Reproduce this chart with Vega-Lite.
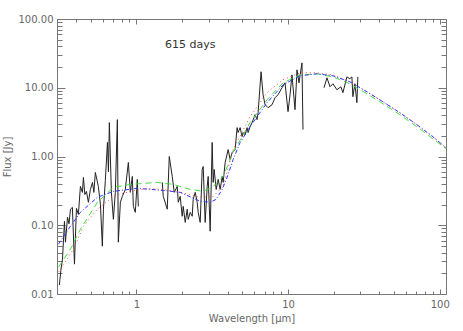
{
  "$schema": "https://vega.github.io/schema/vega-lite/v6.json",
  "width": 389,
  "height": 275,
  "autosize": "none",
  "padding": {"left": 57, "top": 19, "right": 17, "bottom": 37},
  "background": "white",
  "config": {
    "view": {"stroke": null},
    "axis": {"grid": false, "domainColor": "#777", "tickColor": "#777", "labelColor": "#666", "titleColor": "#666", "labelFont": "DejaVu Sans", "titleFont": "DejaVu Sans", "labelFontSize": 10, "titleFontSize": 10, "titleFontWeight": "normal", "domainWidth": 1, "tickWidth": 1}
  },
  "datasets": {
    "spec": [
      {"w": 0.311, "f": 0.0135, "seg": 1}, {"w": 0.318, "f": 0.022, "seg": 1}, {"w": 0.326, "f": 0.0321, "seg": 1}, {"w": 0.336, "f": 0.114, "seg": 1}, {"w": 0.341, "f": 0.0567, "seg": 1}, {"w": 0.352, "f": 0.131, "seg": 1}, {"w": 0.36, "f": 0.105, "seg": 1}, {"w": 0.368, "f": 0.171, "seg": 1}, {"w": 0.379, "f": 0.182, "seg": 1}, {"w": 0.391, "f": 0.0272, "seg": 1}, {"w": 0.403, "f": 0.176, "seg": 1}, {"w": 0.415, "f": 0.144, "seg": 1}, {"w": 0.428, "f": 0.367, "seg": 1}, {"w": 0.441, "f": 0.301, "seg": 1}, {"w": 0.448, "f": 0.496, "seg": 1}, {"w": 0.458, "f": 0.28, "seg": 1}, {"w": 0.469, "f": 0.311, "seg": 1}, {"w": 0.483, "f": 0.216, "seg": 1}, {"w": 0.498, "f": 0.33, "seg": 1}, {"w": 0.514, "f": 0.42, "seg": 1}, {"w": 0.525, "f": 0.3, "seg": 1}, {"w": 0.537, "f": 0.586, "seg": 1}, {"w": 0.562, "f": 0.367, "seg": 1}, {"w": 0.58, "f": 0.2, "seg": 1}, {"w": 0.597, "f": 0.0496, "seg": 1}, {"w": 0.607, "f": 0.171, "seg": 1}, {"w": 0.625, "f": 0.45, "seg": 1}, {"w": 0.645, "f": 1.6, "seg": 1}, {"w": 0.655, "f": 0.6, "seg": 1}, {"w": 0.664, "f": 3.11, "seg": 1}, {"w": 0.685, "f": 0.301, "seg": 1}, {"w": 0.706, "f": 0.122, "seg": 1}, {"w": 0.727, "f": 0.301, "seg": 1}, {"w": 0.75, "f": 3.44, "seg": 1}, {"w": 0.761, "f": 0.0567, "seg": 1}, {"w": 0.785, "f": 0.216, "seg": 1}, {"w": 0.809, "f": 0.263, "seg": 1}, {"w": 0.846, "f": 0.332, "seg": 1}, {"w": 0.886, "f": 0.819, "seg": 1}, {"w": 0.913, "f": 0.301, "seg": 1}, {"w": 0.941, "f": 0.513, "seg": 1}, {"w": 0.956, "f": 0.188, "seg": 1}, {"w": 0.985, "f": 0.154, "seg": 1}, {"w": 1.015, "f": 0.464, "seg": 1}, {"w": 1.031, "f": 0.188, "seg": 1},
      {"w": 1.483, "f": 0.42, "seg": 2}, {"w": 1.505, "f": 0.263, "seg": 2}, {"w": 1.599, "f": 0.171, "seg": 2}, {"w": 1.649, "f": 1.0, "seg": 2}, {"w": 1.725, "f": 0.513, "seg": 2}, {"w": 1.778, "f": 0.301, "seg": 2}, {"w": 1.861, "f": 0.367, "seg": 2}, {"w": 1.89, "f": 0.216, "seg": 2}, {"w": 1.947, "f": 0.263, "seg": 2}, {"w": 2.007, "f": 0.135, "seg": 2}, {"w": 2.038, "f": 0.188, "seg": 2}, {"w": 2.101, "f": 0.11, "seg": 2}, {"w": 2.165, "f": 0.171, "seg": 2}, {"w": 2.198, "f": 0.122, "seg": 2}, {"w": 2.266, "f": 0.154, "seg": 2}, {"w": 2.336, "f": 0.135, "seg": 2}, {"w": 2.371, "f": 0.238, "seg": 2}, {"w": 2.444, "f": 0.301, "seg": 2}, {"w": 2.519, "f": 0.216, "seg": 2}, {"w": 2.558, "f": 0.154, "seg": 2}, {"w": 2.637, "f": 0.11, "seg": 2}, {"w": 2.718, "f": 0.648, "seg": 2}, {"w": 2.76, "f": 0.716, "seg": 2}, {"w": 2.844, "f": 0.11, "seg": 2}, {"w": 2.932, "f": 0.367, "seg": 2}, {"w": 2.977, "f": 0.513, "seg": 2}, {"w": 3.068, "f": 0.0819, "seg": 2}, {"w": 3.162, "f": 1.6, "seg": 2}, {"w": 3.211, "f": 0.42, "seg": 2}, {"w": 3.26, "f": 0.648, "seg": 2}, {"w": 3.36, "f": 0.332, "seg": 2}, {"w": 3.464, "f": 0.464, "seg": 2}, {"w": 3.57, "f": 0.332, "seg": 2}, {"w": 3.68, "f": 0.513, "seg": 2}, {"w": 3.736, "f": 0.42, "seg": 2}, {"w": 3.851, "f": 0.819, "seg": 2}, {"w": 4.03, "f": 1.26, "seg": 2}, {"w": 4.154, "f": 0.905, "seg": 2}, {"w": 4.281, "f": 1.14, "seg": 2}, {"w": 4.48, "f": 1.26, "seg": 2}, {"w": 4.618, "f": 2.63, "seg": 2}, {"w": 4.69, "f": 2.23, "seg": 2}, {"w": 4.833, "f": 2.63, "seg": 2}, {"w": 4.982, "f": 1.95, "seg": 2}, {"w": 5.058, "f": 2.23, "seg": 2}, {"w": 5.213, "f": 2.08, "seg": 2}, {"w": 5.374, "f": 2.63, "seg": 2}, {"w": 5.456, "f": 2.23, "seg": 2}, {"w": 5.623, "f": 2.72, "seg": 2}, {"w": 5.797, "f": 3.11, "seg": 2}, {"w": 6.066, "f": 4.06, "seg": 2}, {"w": 6.253, "f": 3.44, "seg": 2}, {"w": 6.348, "f": 4.34, "seg": 2}, {"w": 6.643, "f": 17.1, "seg": 2}, {"w": 6.848, "f": 7.92, "seg": 2}, {"w": 7.06, "f": 5.67, "seg": 2}, {"w": 7.388, "f": 5.13, "seg": 2}, {"w": 7.848, "f": 5.67, "seg": 2}, {"w": 8.214, "f": 7.16, "seg": 2}, {"w": 8.595, "f": 7.92, "seg": 2}, {"w": 9.13, "f": 10.0, "seg": 2}, {"w": 9.556, "f": 11.8, "seg": 2}, {"w": 10.0, "f": 4.49, "seg": 2}, {"w": 10.31, "f": 7.92, "seg": 2}, {"w": 10.62, "f": 15.4, "seg": 2}, {"w": 11.12, "f": 4.8, "seg": 2}, {"w": 11.46, "f": 18.2, "seg": 2}, {"w": 11.81, "f": 11.8, "seg": 2}, {"w": 12.36, "f": 23.0, "seg": 2}, {"w": 12.55, "f": 2.46, "seg": 2},
      {"w": 17.26, "f": 10.0, "seg": 3}, {"w": 18.06, "f": 13.96, "seg": 3}, {"w": 18.9, "f": 10.34, "seg": 3}, {"w": 19.78, "f": 11.43, "seg": 3}, {"w": 21.01, "f": 9.35, "seg": 3}, {"w": 22.32, "f": 10.34, "seg": 3}, {"w": 23.0, "f": 8.47, "seg": 3}, {"w": 24.44, "f": 14.4, "seg": 3}, {"w": 25.58, "f": 13.5, "seg": 3}, {"w": 26.37, "f": 14.4, "seg": 3}, {"w": 26.77, "f": 7.41, "seg": 3}, {"w": 27.6, "f": 11.43, "seg": 3}, {"w": 28.44, "f": 6.07, "seg": 3}, {"w": 28.87, "f": 14.4, "seg": 3}
    ],
    "models": [
      {"w": 0.307, "f": 0.0246, "model": "green"}, {"w": 0.368, "f": 0.0449, "model": "green"}, {"w": 0.428, "f": 0.0875, "model": "green"}, {"w": 0.554, "f": 0.216, "model": "green"}, {"w": 0.706, "f": 0.356, "model": "green"}, {"w": 0.913, "f": 0.393, "model": "green"}, {"w": 1.375, "f": 0.42, "model": "green"}, {"w": 1.751, "f": 0.393, "model": "green"}, {"w": 2.266, "f": 0.332, "model": "green"}, {"w": 2.76, "f": 0.311, "model": "green"}, {"w": 3.211, "f": 0.367, "model": "green"}, {"w": 3.736, "f": 0.513, "model": "green"}, {"w": 4.346, "f": 1.14, "model": "green"}, {"w": 5.623, "f": 3.11, "model": "green"}, {"w": 7.276, "f": 6.7, "model": "green"}, {"w": 9.27, "f": 11.8, "model": "green"}, {"w": 11.99, "f": 15.4, "model": "green"}, {"w": 15.52, "f": 15.95, "model": "green"}, {"w": 19.78, "f": 14.4, "model": "green"}, {"w": 25.58, "f": 11.4, "model": "green"}, {"w": 33.09, "f": 8.19, "model": "green"}, {"w": 42.17, "f": 5.86, "model": "green"}, {"w": 54.56, "f": 4.06, "model": "green"}, {"w": 70.6, "f": 2.72, "model": "green"}, {"w": 89.9, "f": 1.82, "model": "green"}, {"w": 109.5, "f": 1.31, "model": "green"},
      {"w": 0.307, "f": 0.0208, "model": "red"}, {"w": 0.385, "f": 0.0449, "model": "red"}, {"w": 0.448, "f": 0.0968, "model": "red"}, {"w": 0.554, "f": 0.171, "model": "red"}, {"w": 0.706, "f": 0.263, "model": "red"}, {"w": 0.913, "f": 0.311, "model": "red"}, {"w": 1.181, "f": 0.344, "model": "red"}, {"w": 1.505, "f": 0.332, "model": "red"}, {"w": 1.947, "f": 0.301, "model": "red"}, {"w": 2.637, "f": 0.255, "model": "red"}, {"w": 3.211, "f": 0.263, "model": "red"}, {"w": 3.736, "f": 0.367, "model": "red"}, {"w": 4.346, "f": 1.26, "model": "red"}, {"w": 5.623, "f": 3.8, "model": "red"}, {"w": 7.276, "f": 8.47, "model": "red"}, {"w": 9.27, "f": 13.1, "model": "red"}, {"w": 11.99, "f": 16.5, "model": "red"}, {"w": 15.52, "f": 16.5, "model": "red"}, {"w": 19.78, "f": 15.4, "model": "red"}, {"w": 25.58, "f": 12.2, "model": "red"}, {"w": 33.09, "f": 8.75, "model": "red"}, {"w": 42.17, "f": 6.27, "model": "red"}, {"w": 54.56, "f": 4.34, "model": "red"}, {"w": 70.6, "f": 2.91, "model": "red"}, {"w": 89.9, "f": 1.95, "model": "red"}, {"w": 109.5, "f": 1.35, "model": "red"},
      {"w": 0.307, "f": 0.0531, "model": "blue"}, {"w": 0.368, "f": 0.0968, "model": "blue"}, {"w": 0.428, "f": 0.154, "model": "blue"}, {"w": 0.554, "f": 0.255, "model": "blue"}, {"w": 0.706, "f": 0.311, "model": "blue"}, {"w": 1.015, "f": 0.344, "model": "blue"}, {"w": 1.505, "f": 0.321, "model": "blue"}, {"w": 1.947, "f": 0.301, "model": "blue"}, {"w": 2.637, "f": 0.223, "model": "blue"}, {"w": 3.068, "f": 0.216, "model": "blue"}, {"w": 3.36, "f": 0.238, "model": "blue"}, {"w": 3.68, "f": 0.332, "model": "blue"}, {"w": 3.968, "f": 0.496, "model": "blue"}, {"w": 4.346, "f": 0.905, "model": "blue"}, {"w": 4.833, "f": 1.6, "model": "blue"}, {"w": 5.623, "f": 2.72, "model": "blue"}, {"w": 7.276, "f": 6.07, "model": "blue"}, {"w": 9.27, "f": 11.05, "model": "blue"}, {"w": 11.99, "f": 14.9, "model": "blue"}, {"w": 15.52, "f": 15.95, "model": "blue"}, {"w": 19.78, "f": 14.9, "model": "blue"}, {"w": 25.58, "f": 12.2, "model": "blue"}, {"w": 33.09, "f": 8.75, "model": "blue"}, {"w": 42.17, "f": 6.27, "model": "blue"}, {"w": 54.56, "f": 4.34, "model": "blue"}, {"w": 70.6, "f": 2.91, "model": "blue"}, {"w": 89.9, "f": 1.95, "model": "blue"}, {"w": 109.5, "f": 1.35, "model": "blue"}
    ],
    "label": [{"w": 2.27, "f": 42, "text": "615 days"}]
  },
  "resolve": {"axis": {"x": "independent", "y": "independent"}},
  "layer": [
    {
      "data": {"name": "spec"},
      "mark": {"type": "line", "color": "#222222", "strokeWidth": 1, "clip": true},
      "encoding": {
        "x": {"field": "w", "type": "quantitative", "scale": {"type": "log", "domain": [0.3, 110], "nice": false},
          "axis": {"orient": "bottom", "values": [1, 10, 100], "format": "d", "tickSize": -5, "labelPadding": 10, "title": "Wavelength [μm]", "titlePadding": 4}},
        "y": {"field": "f", "type": "quantitative", "scale": {"type": "log", "domain": [0.01, 100], "nice": false},
          "axis": {"orient": "left", "values": [0.01, 0.1, 1, 10, 100], "format": ".2f", "tickSize": -8, "labelPadding": 12, "title": "Flux [Jy]", "titlePadding": 6}},
        "detail": {"field": "seg", "type": "nominal"}
      }
    },
    {
      "data": {"name": "models"},
      "transform": [{"filter": "datum.model === 'green'"}],
      "mark": {"type": "line", "color": "#44dd44", "strokeWidth": 1, "strokeDash": [6, 4], "clip": true},
      "encoding": {
        "x": {"field": "w", "type": "quantitative", "scale": {"type": "log", "domain": [0.3, 110], "nice": false},
          "axis": {"orient": "bottom", "values": [0.3, 0.4, 0.5, 0.6, 0.7, 0.8, 0.9, 2, 3, 4, 5, 6, 7, 8, 9, 20, 30, 40, 50, 60, 70, 80, 90], "labels": false, "domain": false, "tickSize": -3, "title": null}},
        "y": {"field": "f", "type": "quantitative", "scale": {"type": "log", "domain": [0.01, 100], "nice": false},
          "axis": {"orient": "left", "values": [0.02, 0.03, 0.04, 0.05, 0.06, 0.07, 0.08, 0.09, 0.2, 0.3, 0.4, 0.5, 0.6, 0.7, 0.8, 0.9, 2, 3, 4, 5, 6, 7, 8, 9, 20, 30, 40, 50, 60, 70, 80, 90], "labels": false, "domain": false, "tickSize": -5, "title": null}}
      }
    },
    {
      "data": {"name": "models"},
      "transform": [{"filter": "datum.model === 'red'"}],
      "mark": {"type": "line", "color": "#ff4444", "strokeWidth": 1, "strokeDash": [1, 3], "clip": true},
      "encoding": {
        "x": {"field": "w", "type": "quantitative", "scale": {"type": "log", "domain": [0.3, 110], "nice": false},
          "axis": {"orient": "top", "values": [1, 10, 100], "labels": false, "tickSize": -5, "title": null}},
        "y": {"field": "f", "type": "quantitative", "scale": {"type": "log", "domain": [0.01, 100], "nice": false},
          "axis": {"orient": "right", "values": [0.01, 0.1, 1, 10, 100], "labels": false, "tickSize": -8, "title": null}}
      }
    },
    {
      "data": {"name": "models"},
      "transform": [{"filter": "datum.model === 'blue'"}],
      "mark": {"type": "line", "color": "#3333ff", "strokeWidth": 1, "strokeDash": [4, 2, 1, 2], "clip": true},
      "encoding": {
        "x": {"field": "w", "type": "quantitative", "scale": {"type": "log", "domain": [0.3, 110], "nice": false},
          "axis": {"orient": "top", "values": [0.3, 0.4, 0.5, 0.6, 0.7, 0.8, 0.9, 2, 3, 4, 5, 6, 7, 8, 9, 20, 30, 40, 50, 60, 70, 80, 90], "labels": false, "domain": false, "tickSize": -3, "title": null}},
        "y": {"field": "f", "type": "quantitative", "scale": {"type": "log", "domain": [0.01, 100], "nice": false},
          "axis": {"orient": "right", "values": [0.02, 0.03, 0.04, 0.05, 0.06, 0.07, 0.08, 0.09, 0.2, 0.3, 0.4, 0.5, 0.6, 0.7, 0.8, 0.9, 2, 3, 4, 5, 6, 7, 8, 9, 20, 30, 40, 50, 60, 70, 80, 90], "labels": false, "domain": false, "tickSize": -5, "title": null}}
      }
    },
    {
      "data": {"name": "label"},
      "mark": {"type": "text", "font": "DejaVu Sans", "fontSize": 11, "color": "#333333"},
      "encoding": {
        "x": {"field": "w", "type": "quantitative", "scale": {"type": "log", "domain": [0.3, 110], "nice": false}, "axis": null},
        "y": {"field": "f", "type": "quantitative", "scale": {"type": "log", "domain": [0.01, 100], "nice": false}, "axis": null},
        "text": {"field": "text"}
      }
    }
  ]
}
